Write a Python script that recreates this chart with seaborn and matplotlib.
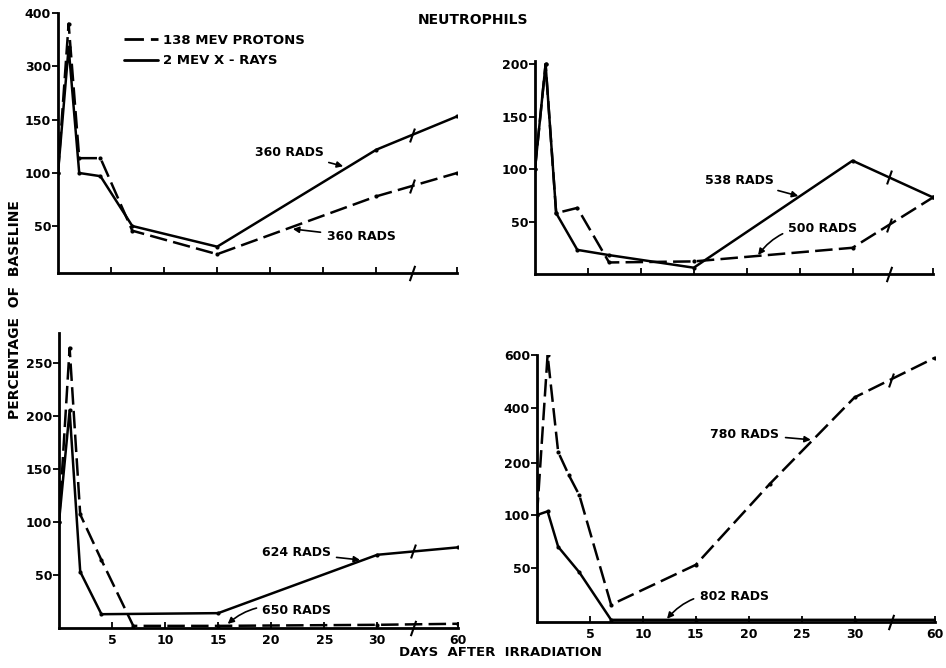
import numpy as np
import pandas as pd
import seaborn as sns
import matplotlib.pyplot as plt
from matplotlib.lines import Line2D

# day after irradiation, % of baseline
tl_days = [0, 1, 2, 4, 7, 15, 30, 60]
tl_protons = [100, 380, 114, 114, 45, 20, 78, 100]
tl_xrays = [100, 335, 100, 97, 50, 28, 122, 160]

tr_days = [0, 1, 2, 4, 7, 15, 30, 60]
tr_protons = [100, 200, 58, 63, 11, 12, 25, 73]
tr_xrays = [100, 200, 58, 23, 18, 6, 108, 73]

bl_proton_days = [0, 1, 2, 4, 7, 15, 30, 60]
bl_protons = [100, 264, 107, 64, 2, 2, 3, 4]
bl_xray_days = [0, 1, 2, 4, 15, 30, 60]
bl_xrays = [100, 205, 53, 13, 14, 69, 76]

br_proton_days = [0, 1, 2, 3, 4, 7, 15, 22, 30, 60]
br_protons = [100, 600, 240, 177, 138, 16, 53, 160, 440, 590]
br_xray_days = [0, 1, 2, 4, 7, 15, 30, 60]
br_xrays = [100, 107, 70, 46, 2, 2, 2, 2]

x_ticks = [5, 10, 15, 20, 25, 30, 60]
y_ticks = {
    'tl': [50, 100, 150, 300, 400],
    'tr': [50, 100, 150, 200],
    'bl': [50, 100, 150, 200, 250],
    'br': [50, 100, 200, 400, 600],
}
# uneven vertical scales of the original panels: value -> relative position
y_knots = {
    'tl': ([0, 50, 100, 150, 300, 400], [0, 47, 100, 153, 207, 260]),
    'tr': ([0, 200], [0, 200]),
    'bl': ([0, 250], [0, 250]),
    'br': ([0, 50, 100, 200, 400, 600], [0, 54, 107, 159, 214, 267]),
}
y_limits = {'tl': (0, 400), 'tr': (0, 203), 'bl': (0, 278), 'br': (0, 600)}
rads = {
    'tl': [('360 RADS', (27, 106), (289, 152), 0.0), ('360 RADS', (22, 47), (361, 237), 0.0)],
    'tr': [('538 RADS', (25, 74), (739, 180), 0.0), ('500 RADS', (21, 17), (823, 228), 0.3)],
    'bl': [('624 RADS', (28.5, 64), (296, 553), 0.0), ('650 RADS', (15.8, 3), (297, 611), 0.3)],
    'br': [('780 RADS', (26, 284), (745, 434), 0.0), ('802 RADS', (12.2, 2), (734, 596), 0.3)],
}

rows = []
for panel, days_p, vals_p, days_x, vals_x in [
        ('tl', tl_days, tl_protons, tl_days, tl_xrays),
        ('tr', tr_days, tr_protons, tr_days, tr_xrays),
        ('bl', bl_proton_days, bl_protons, bl_xray_days, bl_xrays),
        ('br', br_proton_days, br_protons, br_xray_days, br_xrays)]:
    for d, v in zip(days_p, vals_p):
        rows.append((panel, 'protons', d, v))
    for d, v in zip(days_x, vals_x):
        rows.append((panel, 'xrays', d, v))
df = pd.DataFrame(rows, columns=['panel', 'source', 'day', 'pct'])

X_END = 37.6  # day 60 sits just past a break after day 30


def x_fwd(d):
    d = np.asarray(d, dtype=float)
    return np.where(d <= 30, d, 30 + (d - 30) * (X_END - 30) / 30)


def x_inv(p):
    p = np.asarray(p, dtype=float)
    return np.where(p <= 30, p, 30 + (p - 30) * 30 / (X_END - 30))


def piecewise(xs, ys):
    xs = np.asarray(xs, float)
    ys = np.asarray(ys, float)

    def f(v):
        v = np.asarray(v, dtype=float)
        out = np.interp(v, xs, ys)
        lo = ys[0] + (v - xs[0]) * (ys[1] - ys[0]) / (xs[1] - xs[0])
        hi = ys[-1] + (v - xs[-1]) * (ys[-1] - ys[-2]) / (xs[-1] - xs[-2])
        return np.where(v < xs[0], lo, np.where(v > xs[-1], hi, out))
    return f


sns.set_style('ticks')
plt.rcParams['font.family'] = ['DejaVu Sans']
plt.rcParams['font.weight'] = 'bold'
for key in ('text.color', 'axes.labelcolor', 'xtick.color', 'ytick.color', 'axes.edgecolor'):
    plt.rcParams[key] = 'black'

fig = plt.figure(figsize=(9.46, 6.68), dpi=100)
W, H = 946, 668
boxes = {
    'tl': (58, 13, 457, 273),
    'tr': (535, 61, 933, 274),
    'bl': (59, 333, 458, 628),
    'br': (537, 355, 935, 622),
}
dash_map = {'protons': (7, 2.5), 'xrays': ''}
break_day = float(x_inv(33.4))

for panel, (x0, y0, x1, y1) in boxes.items():
    ax = fig.add_axes([x0 / W, 1 - y1 / H, (x1 - x0) / W, (y1 - y0) / H])
    sub = df[df['panel'] == panel]
    sns.lineplot(data=sub, x='day', y='pct', style='source', dashes=dash_map,
                 color='black', linewidth=1.8, estimator=None, sort=False,
                 marker='o', markersize=3, markeredgewidth=0, legend=False, ax=ax)
    fwd_y = piecewise(*y_knots[panel])
    inv_y = piecewise(y_knots[panel][1], y_knots[panel][0])
    ax.set_xscale('function', functions=(x_fwd, x_inv))
    ax.set_yscale('function', functions=(fwd_y, inv_y))
    ax.set_xlim(0, 60)
    ax.set_ylim(*y_limits[panel])
    ax.set_xticks(x_ticks)
    ax.set_yticks(y_ticks[panel])
    ax.set_yticklabels([str(t) for t in y_ticks[panel]], fontsize=9, fontweight='bold')
    if panel in ('bl', 'br'):
        ax.set_xticklabels([str(t) for t in x_ticks], fontsize=9, fontweight='bold')
    else:
        ax.set_xticklabels([])
    ax.tick_params(axis='x', direction='in', length=4, width=1.3, pad=4)
    ax.tick_params(axis='y', direction='out', length=4, width=1.3, pad=1)
    ax.minorticks_off()
    ax.set_xlabel('')
    ax.set_ylabel('')
    sns.despine(ax=ax)
    for s in ('left', 'bottom'):
        ax.spines[s].set_linewidth(2)

    # break slashes on the axis and on each line past day 30
    slash = [(-0.35, -1), (0.35, 1)]
    ax.plot([break_day], [y_limits[panel][0]], marker=slash, ms=11, mew=1.5,
            color='black', clip_on=False)
    for src, g in sub.groupby('source'):
        g = g.sort_values('day')
        p30 = fwd_y(g.loc[g['day'] == 30, 'pct'].iloc[0])
        p60 = fwd_y(g.loc[g['day'] == 60, 'pct'].iloc[0])
        frac = (33.4 - 30) / (X_END - 30)
        yb = float(inv_y(p30 + frac * (p60 - p30)))
        if yb > 8:
            ax.plot([break_day], [yb], marker=slash, ms=10, mew=1.5, color='black')

    for text, target, (tx, ty), rad in rads[panel]:
        ax.annotate(text, xy=target, xytext=(tx, H - ty), textcoords='figure pixels',
                    ha='center', va='center', fontsize=9, fontweight='bold',
                    arrowprops=dict(arrowstyle='-|>', color='black', lw=1.2,
                                    mutation_scale=9, shrinkA=2, shrinkB=1,
                                    connectionstyle='arc3,rad=%s' % rad))

fig.text(473 / W, 1 - 20 / H, 'NEUTROPHILS', ha='center', va='center',
         fontsize=10, fontweight='bold')
fig.text(15 / W, 1 - 310 / H, 'PERCENTAGE  OF  BASELINE', rotation=90,
         ha='center', va='center', fontsize=10, fontweight='bold')
fig.text(500 / W, 1 - 652 / H, 'DAYS  AFTER  IRRADIATION', ha='center', va='center',
         fontsize=9.5, fontweight='bold')

handles = [Line2D([], [], color='black', lw=2, dashes=(7, 2.5)),
           Line2D([], [], color='black', lw=2)]
fig.legend(handles, ['138 MEV PROTONS', '2 MEV X - RAYS'], loc='upper left',
           bbox_to_anchor=(112 / W, 1 - 22 / H), frameon=False, handlelength=2.6,
           handletextpad=0.4, labelspacing=0.55,
           prop={'weight': 'bold', 'size': 9.5})

fig.savefig('out.png', dpi=100)
